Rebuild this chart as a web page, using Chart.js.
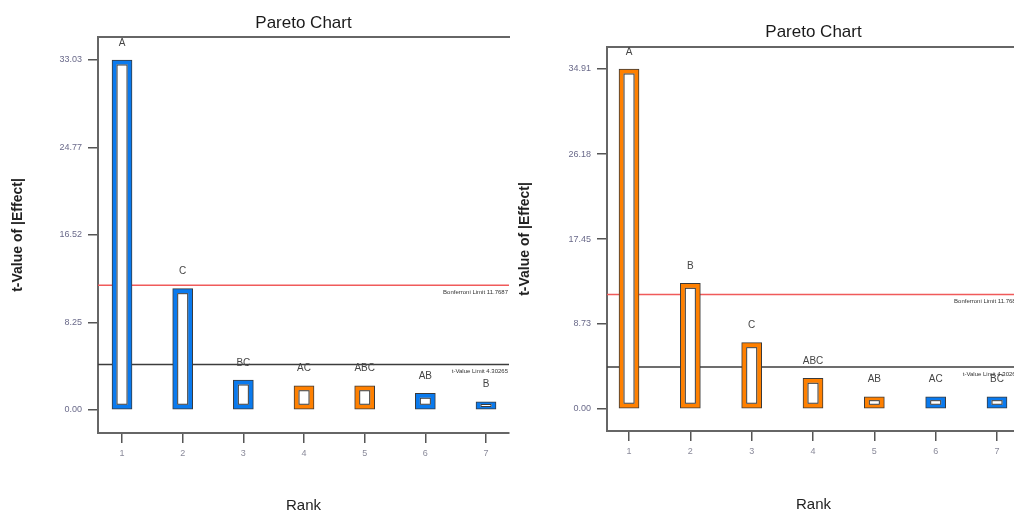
<!DOCTYPE html>
<html>
<head>
<meta charset="utf-8">
<script src="https://cdn.jsdelivr.net/npm/chart.js@4/dist/chart.umd.min.js"></script>
<style>
  html, body { margin: 0; padding: 0; background: #fff; overflow: hidden; width: 1014px; height: 513px; }
  #leftChart { position: absolute; left: 0; top: 0; }
  #rightChart { position: absolute; left: 510px; top: 0; }
</style>
</head>
<body>
<canvas id="leftChart" width="515" height="513"></canvas>
<canvas id="rightChart" width="515" height="513"></canvas>
<script>
// Pareto chart of effect t-values (Design-Expert style): two models side by side.
const ranks = [1, 2, 3, 4, 5, 6, 7];

// Left model
const leftTerms   = ['A', 'C', 'BC', 'AC', 'ABC', 'AB', 'B'];
const leftTValues = [33.03, 11.45, 2.83, 2.29, 2.29, 1.58, 0.78];
const leftSigns   = ['-', '-', '-', '+', '+', '-', '-'];
const leftYTicks  = [0.00, 8.25, 16.52, 24.77, 33.03];

// Right model
const rightTerms   = ['A', 'B', 'C', 'ABC', 'AB', 'AC', 'BC'];
const rightTValues = [34.91, 12.90, 6.81, 3.15, 1.26, 1.26, 1.26];
const rightSigns   = ['+', '+', '+', '+', '+', '-', '-'];
const rightYTicks  = [0.00, 8.73, 17.45, 26.18, 34.91];

// Significance limits
const tValueLimit = 4.30265;
const bonferroniLimit = 11.7687;
const tValueLimitText = 't-Value Limit 4.30265';
const bonferroniLimitText = 'Bonferroni Limit 11.7687';

const POSITIVE = 'rgb(255,128,0)';
const NEGATIVE = 'rgb(10,122,238)';
const OUTLINE = '#3a3a3a';
const SANS = '"Liberation Sans", Arial, sans-serif';

// Hollow look: white inner rectangle inside every bar
const hollowBars = {
  id: 'hollowBars',
  afterDatasetsDraw(chart) {
    const ctx = chart.ctx;
    chart.data.datasets.forEach((ds, di) => {
      const meta = chart.getDatasetMeta(di);
      if (meta.type !== 'bar') return;
      meta.data.forEach(el => {
        const p = el.getProps(['x', 'y', 'base', 'width'], true);
        const top = Math.min(p.y, p.base), bottom = Math.max(p.y, p.base);
        const h = bottom - top;
        const insetY = Math.min(4.5, h * 0.3);
        const insetX = 4.5;
        ctx.save();
        ctx.fillStyle = '#fff';
        ctx.strokeStyle = OUTLINE;
        ctx.lineWidth = 1;
        const x0 = p.x - p.width / 2 + insetX, y0 = top + insetY;
        const w = p.width - 2 * insetX, hh = h - 2 * insetY;
        ctx.fillRect(x0, y0, w, hh);
        ctx.strokeRect(x0 + 0.5, y0 + 0.5, w - 1, Math.max(hh - 1, 0.5));
        ctx.restore();
      });
    });
  }
};

// Term names above bars and captions under the limit lines
const paretoText = {
  id: 'paretoText',
  afterDatasetsDraw(chart, args, opts) {
    const ctx = chart.ctx;
    const meta = chart.getDatasetMeta(0);
    ctx.save();
    ctx.fillStyle = '#454545';
    ctx.font = '10px ' + SANS;
    ctx.textAlign = 'center';
    ctx.textBaseline = 'middle';
    meta.data.forEach((el, i) => {
      const p = el.getProps(['x', 'y'], true);
      ctx.fillText(opts.terms[i], p.x, p.y - 17);
    });
    const yScale = chart.scales.y;
    const area = chart.chartArea;
    ctx.font = '6px ' + SANS;
    ctx.textAlign = 'right';
    ctx.fillStyle = '#333';
    ctx.fillText(bonferroniLimitText, area.right - 1, yScale.getPixelForValue(bonferroniLimit) + 7);
    ctx.fillText(tValueLimitText, area.right - 1, yScale.getPixelForValue(tValueLimit) + 7);
    ctx.restore();
  }
};

function makePareto(canvasId, terms, values, signs, yTicks, opt) {
  const barData = ranks.map((r, i) => ({ x: r, y: values[i] }));
  const limitLine = v => [{ x: opt.xMin, y: v }, { x: opt.xMax, y: v }];
  return new Chart(document.getElementById(canvasId), {
    type: 'bar',
    data: {
      datasets: [
        {
          type: 'bar',
          data: barData,
          backgroundColor: signs.map(s => s === '+' ? POSITIVE : NEGATIVE),
          borderColor: OUTLINE,
          borderWidth: 1,
          borderSkipped: false,
          barThickness: opt.barWidth,
          order: 1
        },
        {
          type: 'line',
          data: limitLine(bonferroniLimit),
          borderColor: 'rgb(240,90,90)',
          borderWidth: 1.5,
          pointRadius: 0,
          order: 2
        },
        {
          type: 'line',
          data: limitLine(tValueLimit),
          borderColor: '#3c3c3c',
          borderWidth: 1.5,
          pointRadius: 0,
          order: 2
        }
      ]
    },
    options: {
      responsive: false,
      animation: false,
      events: [],
      layout: { padding: { left: 0, top: 0, bottom: 0, right: opt.padRight } },
      plugins: {
        legend: { display: false },
        tooltip: { enabled: false },
        paretoText: { terms: terms }
      },
      scales: {
        x: {
          type: 'linear',
          position: 'bottom',
          offset: false,
          min: opt.xMin,
          max: opt.xMax,
          afterBuildTicks: s => { s.ticks = ranks.map(v => ({ value: v })); },
          afterFit: s => { s.height = opt.bottomH; },
          ticks: {
            autoSkip: false,
            maxRotation: 0,
            padding: 5,
            color: '#8a8a9a',
            font: { family: SANS, size: 9 },
            callback: v => String(v)
          },
          grid: { offset: false, drawOnChartArea: false, drawTicks: true, tickLength: 10, color: '#555', lineWidth: 1.5 },
          border: { display: true, color: '#666', width: 2 },
          title: {
            display: true,
            text: 'Rank',
            color: '#222',
            font: { family: SANS, size: 15, lineHeight: 1 },
            padding: { top: 0, bottom: opt.rankPad }
          }
        },
        xTop: {
          type: 'linear',
          axis: 'x',
          position: 'top',
          offset: false,
          min: opt.xMin,
          max: opt.xMax,
          afterFit: s => { s.height = opt.topH; },
          ticks: { display: false },
          grid: { display: false, drawTicks: false, offset: false },
          border: { display: true, color: '#666', width: 2 },
          title: {
            display: true,
            text: 'Pareto Chart',
            color: '#1a1a1a',
            font: { family: SANS, size: 17, lineHeight: 1.2 },
            padding: { top: opt.titlePad, bottom: 0 }
          }
        },
        y: {
          type: 'linear',
          position: 'left',
          min: opt.yMin,
          max: opt.yMax,
          afterBuildTicks: s => { s.ticks = yTicks.map(v => ({ value: v })); },
          afterFit: s => { s.width = opt.leftW; },
          ticks: {
            autoSkip: false,
            padding: 6,
            color: '#6a6a8a',
            font: { family: SANS, size: 9 },
            callback: v => Number(v).toFixed(2)
          },
          grid: { drawOnChartArea: false, drawTicks: true, tickLength: 10, color: '#555', lineWidth: 1.5 },
          border: { display: true, color: '#666', width: 2 },
          title: {
            display: true,
            text: 't-Value of |Effect|',
            color: '#222',
            font: { family: SANS, size: 14, weight: 'bold', lineHeight: 1.2 },
            padding: { top: opt.yTitlePad, bottom: 0 }
          }
        }
      }
    },
    plugins: [hollowBars, paretoText]
  });
}

makePareto('leftChart', leftTerms, leftTValues, leftSigns, leftYTicks, {
  xMin: 0.604, xMax: 7.379, yMin: -2.17, yMax: 35.2,
  leftW: 98, topH: 37, bottomH: 80, padRight: 6,
  barWidth: 20, titlePad: 13, rankPad: 0, yTitlePad: 10
});

makePareto('rightChart', rightTerms, rightTValues, rightSigns, rightYTicks, {
  xMin: 0.641, xMax: 7.375, yMin: -2.26, yMax: 37.17,
  leftW: 97, topH: 47, bottomH: 82, padRight: 5,
  barWidth: 20, titlePad: 22, rankPad: 1, yTitlePad: 7
});
</script>
</body>
</html>
